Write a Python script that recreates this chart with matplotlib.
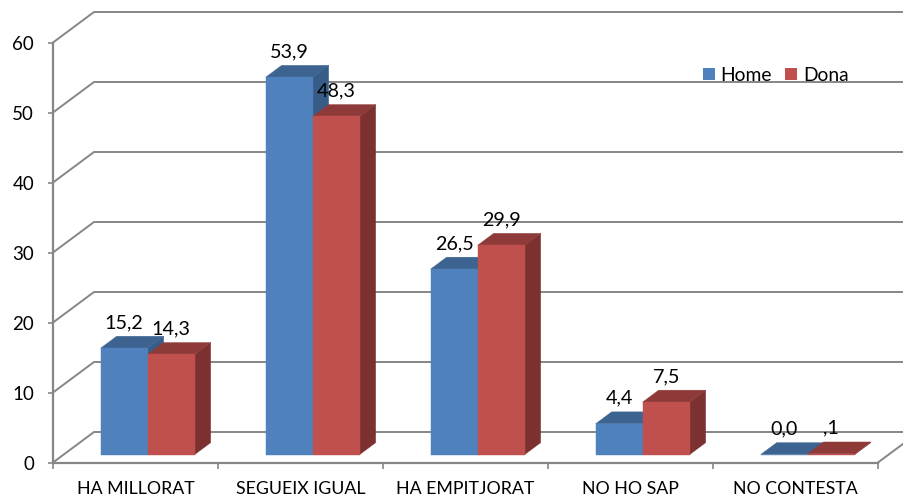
import matplotlib
matplotlib.use("Agg")
import matplotlib.pyplot as plt
from matplotlib.patches import Patch

# ---- data ----
categories = ["HA MILLORAT", "SEGUEIX IGUAL", "HA EMPITJORAT", "NO HO SAP", "NO CONTESTA"]
home = [15.2, 53.9, 26.5, 4.4, 0.0]
dona = [14.3, 48.3, 29.9, 7.5, 0.1]
home_labels = ["15,2", "53,9", "26,5", "4,4", "0,0"]
dona_labels = ["14,3", "48,3", "29,9", "7,5", ",1"]
yticks = [0, 10, 20, 30, 40, 50, 60]

# ---- style ----
W, H, DPI = 904, 497, 100
GRID = "#868686"
BLUE = ("#4F81BD", "#3D6391", "#375C87")
RED = ("#C0504D", "#8E3A38", "#7C3130")
FONT = "Lato"
FS_CAT = 12.8
FS_TICK = 13.5
FS_DATA = 14.2
FS_LEG = 13.9

plt.rcParams["font.family"] = [FONT, "DejaVu Sans"]

fig = plt.figure(figsize=(W / DPI, H / DPI), dpi=DPI)
ax = fig.add_axes([0, 0, 1, 1])
ax.patch.set_visible(False)

# pixel calibration of the front plane
X0, DX = 53.0, 165.0      # px of category 0 edge, px per category
Y0, DY = 462.5, 7.0       # px of value 0, px per unit
ax.set_xlim(-X0 / DX, (W - X0) / DX)
ax.set_ylim((Y0 - H) / DY, Y0 / DY)

# oblique depth: z = 0 at the front plane, z = 1 at the back wall
DEPTH_X = 41.0 / DX
DEPTH_Y = 30.5 / DY


def proj(x, y, z):
    return x + z * DEPTH_X, y + z * DEPTH_Y


n = len(categories)

# walls' gridlines
for v in yticks:
    xa, ya = proj(0, v, 0)
    xb, yb = proj(0, v, 1)
    xc, yc = proj(n, v, 1)
    ax.plot([xa, xb, xc], [ya, yb, yc], color=GRID, lw=1.4, zorder=1,
            solid_joinstyle="miter", solid_capstyle="butt", clip_on=True)
# right edge of the floor
xa, ya = proj(n, 0, 0)
xb, yb = proj(n, 0, 1)
ax.plot([xa, xb], [ya, yb], color=GRID, lw=1.4, zorder=1)

# real axes for the front plane
for s in ("top", "right"):
    ax.spines[s].set_visible(False)
ax.spines["left"].set_position(("data", 0))
ax.spines["left"].set_bounds(0, yticks[-1])
ax.spines["bottom"].set_position(("data", 0))
ax.spines["bottom"].set_bounds(0, n)
for s in ("left", "bottom"):
    ax.spines[s].set_color(GRID)
    ax.spines[s].set_linewidth(1.6)
    ax.spines[s].set_zorder(2)

ax.set_yticks(yticks)
ax.set_yticklabels([str(v) for v in yticks], fontsize=FS_TICK, color="black")
ax.tick_params(axis="y", length=3.6, width=1.2, color=GRID, pad=10)
ax.set_xticks(range(n + 1))
ax.set_xticklabels([""] * (n + 1))
ax.tick_params(axis="x", which="major", length=4.2, width=1.2, color=GRID)
ax.set_xticks([i + 0.5 for i in range(n)], minor=True)
ax.set_xticklabels(categories, minor=True, fontsize=FS_CAT, color="black")
ax.tick_params(axis="x", which="minor", length=0, pad=13.5)

# bars
Z_FRONT, Z_BACK = 0.26, 0.65
BAR_W = 47.0 / DX
SHIFT = 1.5 / DX


def bar3d(left, value, cols, zo):
    right = left + BAR_W
    front, top, side = cols
    p = proj
    quad_side = [p(right, 0, Z_FRONT), p(right, 0, Z_BACK), p(right, value, Z_BACK), p(right, value, Z_FRONT)]
    quad_top = [p(left, value, Z_FRONT), p(right, value, Z_FRONT), p(right, value, Z_BACK), p(left, value, Z_BACK)]
    quad_front = [p(left, 0, Z_FRONT), p(right, 0, Z_FRONT), p(right, value, Z_FRONT), p(left, value, Z_FRONT)]
    for q, c in ((quad_side, side), (quad_top, top), (quad_front, front)):
        ax.fill(*zip(*q), facecolor=c, edgecolor=c, lw=0.3, zorder=zo)


for i in range(n):
    c = i + 0.5 + SHIFT
    bar3d(c - BAR_W, home[i], BLUE, 3 + 2 * i)
    bar3d(c, dona[i], RED, 4 + 2 * i)

# data labels, centred over each front face
for i in range(n):
    c = i + 0.5 + SHIFT
    for left, val, lab in ((c - BAR_W, home[i], home_labels[i]), (c, dona[i], dona_labels[i])):
        x, y = proj(left + BAR_W / 2, val, Z_FRONT)
        ax.annotate(lab, (x, y), xytext=(0, 18.5), textcoords="offset points",
                    ha="center", va="center", fontsize=FS_DATA, color="black", zorder=30)

# legend
handles = [Patch(facecolor=BLUE[0], label="Home"), Patch(facecolor=RED[0], label="Dona")]
leg = ax.legend(handles=handles, ncol=2, frameon=False, loc="center left",
                bbox_to_anchor=(703 / W, 1 - 75.5 / H), fontsize=FS_LEG,
                handlelength=0.62, handleheight=0.62, handletextpad=0.28,
                columnspacing=0.7, borderpad=0, borderaxespad=0)
leg.set_zorder(40)

fig.savefig("out.png", dpi=DPI)
